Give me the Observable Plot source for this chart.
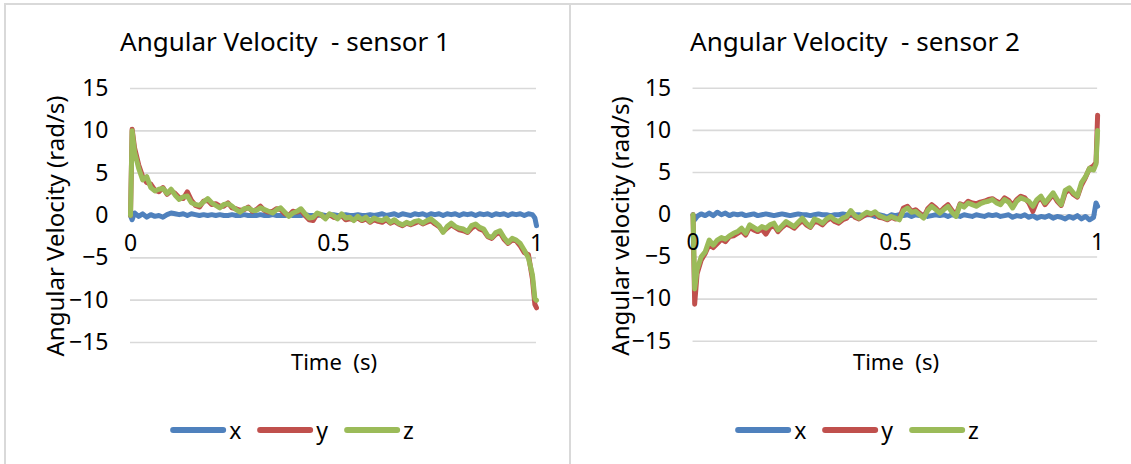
<!DOCTYPE html>
<html><head><meta charset="utf-8">
<script src="https://cdn.jsdelivr.net/npm/d3@7"></script>
<script src="https://cdn.jsdelivr.net/npm/@observablehq/plot@0.6"></script>
<style>
html,body{margin:0;padding:0;background:#fff;}
body{width:1131px;height:464px;overflow:hidden;position:relative;font-family:"Noto Sans",sans-serif;color:#000;}
.box{position:absolute;top:3px;height:480px;border:2px solid #d9d9d9;background:#fff;}
.title{position:absolute;font-size:26px;line-height:30px;white-space:pre;text-align:center;}
.ylab{position:absolute;font-size:24px;line-height:28px;white-space:pre;transform:translate(-50%,-50%) rotate(-90deg);transform-origin:center;}
.xlab{position:absolute;font-size:22px;line-height:26px;white-space:pre;transform:translate(-50%,-50%);}
.legend{position:absolute;display:flex;align-items:center;font-size:23px;line-height:26px;transform:translateX(-50%);}
.sw{display:inline-block;width:56px;height:6px;border-radius:3px;margin-right:3px;}
.lg{margin-right:16px;}
.plot{position:absolute;top:0;}
</style></head>
<body>
<div class="box" style="left:4px;width:563px;"></div>
<div class="box" style="left:569px;width:600px;"></div>
<div id="c1" class="plot" style="left:0px;"></div>
<div id="c2" class="plot" style="left:563px;"></div>
<div class="title" style="left:285px;top:26px;transform:translateX(-50%);">Angular Velocity  - sensor 1</div>
<div class="title" style="left:855px;top:26px;transform:translateX(-50%);">Angular Velocity  - sensor 2</div>
<div class="ylab" style="left:55px;top:226px;">Angular Velocity (rad/s)</div>
<div class="ylab" style="left:620px;top:226px;">Angular velocity (rad/s)</div>
<div class="xlab" style="left:334px;top:361px;">Time  (s)</div>
<div class="xlab" style="left:896px;top:361px;">Time  (s)</div>
<div class="legend" style="left:292px;top:417px;">
  <span class="sw" style="background:#4F81BD"></span><span class="lg">x</span>
  <span class="sw" style="background:#C0504D"></span><span class="lg">y</span>
  <span class="sw" style="background:#9BBB59"></span><span>z</span>
</div>
<div class="legend" style="left:857px;top:417px;">
  <span class="sw" style="background:#4F81BD"></span><span class="lg">x</span>
  <span class="sw" style="background:#C0504D"></span><span class="lg">y</span>
  <span class="sw" style="background:#9BBB59"></span><span>z</span>
</div>
<script>
const time = [0, 0.004,
 0.01,0.02,0.03,0.04,0.05,0.06,0.07,0.08,0.09,0.10,
 0.11,0.12,0.13,0.14,0.15,0.16,0.17,0.18,0.19,0.20,
 0.21,0.22,0.23,0.24,0.25,0.26,0.27,0.28,0.29,0.30,
 0.31,0.32,0.33,0.34,0.35,0.36,0.37,0.38,0.39,0.40,
 0.41,0.42,0.43,0.44,0.45,0.46,0.47,0.48,0.49,0.50,
 0.51,0.52,0.53,0.54,0.55,0.56,0.57,0.58,0.59,0.60,
 0.61,0.62,0.63,0.64,0.65,0.66,0.67,0.68,0.69,0.70,
 0.71,0.72,0.73,0.74,0.75,0.76,0.77,0.78,0.79,0.80,
 0.81,0.82,0.83,0.84,0.85,0.86,0.87,0.88,0.89,0.90,
 0.91,0.92,0.93,0.94,0.95,0.96,0.97,0.98,0.99,
 0.996, 1];

// sensor 1
const s1x = [0, -0.5,
 0.3,-0.1,0.2,-0.2,0.1,-0.1,0.0,-0.2,0.1,0.3,
 0.2,0.1,0.2,0.0,0.2,0.1,0.0,0.1,0.0,0.1,
 0.0,0.1,0.0,0.0,0.1,0.0,0.0,0.1,0.0,0.0,
 0.0,0.1,0.0,0.0,0.1,0.0,0.0,0.0,0.1,0.0,
 0.0,0.0,0.1,0.0,0.0,0.0,0.1,0.0,0.0,0.1,
 0.0,0.0,0.1,0.0,0.0,0.1,0.0,0.0,0.1,0.0,
 0.1,0.2,0.0,0.1,0.2,0.0,0.2,0.1,0.0,0.2,
 0.1,0.2,0.0,0.2,0.1,0.2,0.0,0.2,0.1,0.2,
 0.0,0.2,0.1,0.2,0.0,0.2,0.1,0.2,0.0,0.2,
 0.1,0.2,0.0,0.2,0.1,0.2,0.0,0.2,0.1,
 -0.3, -1.2];
const s1y = [0, 10.2,
 8.0,6.0,4.6,3.9,3.7,3.0,2.8,3.3,2.5,2.9,
 2.6,2.1,2.0,2.8,1.8,1.2,1.0,1.7,1.8,1.3,
 1.4,1.1,1.1,1.5,0.9,0.8,0.6,0.7,1.0,0.5,
 0.7,1.1,0.6,0.4,0.5,0.8,0.7,0.2,0.0,0.5,
 0.4,0.6,0.0,-0.5,-0.6,0.2,0.0,-0.3,0.1,-0.2,
 -0.3,0.0,-0.5,-0.4,-0.5,-0.3,-0.6,-0.4,-0.8,-0.5,
 -0.7,-0.8,-0.5,-0.9,-0.7,-1.0,-1.2,-0.9,-1.1,-0.9,
 -0.7,-1.0,-0.8,-0.6,-1.0,-1.3,-1.9,-1.5,-1.1,-1.4,
 -1.7,-1.8,-2.0,-1.5,-1.2,-1.6,-1.8,-2.5,-2.7,-2.2,
 -2.0,-2.8,-3.3,-2.9,-3.0,-3.6,-4.4,-4.6,-7.5,
 -10.5, -10.9];
const s1z = [0, 10.0,
 7.5,5.6,4.2,4.6,3.3,2.9,3.1,3.2,2.6,3.1,
 2.4,1.9,2.2,2.3,1.5,1.3,1.2,1.6,2.0,1.5,
 1.2,0.9,1.3,1.4,1.1,0.7,0.4,0.8,0.9,0.6,
 0.6,0.9,0.7,0.5,0.3,0.7,0.9,0.4,-0.1,0.3,
 0.5,0.8,0.2,-0.3,-0.2,0.3,0.1,-0.4,0.2,0.0,
 -0.4,0.2,-0.3,-0.2,-0.6,-0.1,-0.5,-0.2,-0.7,-0.3,
 -0.5,-0.6,-0.3,-0.8,-0.5,-0.9,-1.1,-0.8,-1.0,-0.7,
 -0.6,-0.9,-0.6,-0.4,-0.8,-1.2,-2.0,-1.3,-0.9,-1.3,
 -1.5,-1.6,-1.9,-1.2,-1.0,-1.4,-1.6,-2.4,-2.6,-2.0,
 -1.8,-2.6,-3.2,-2.7,-2.9,-3.3,-4.1,-5.0,-7.0,
 -9.8, -10.0];

// sensor 2
const s2x = [0, -0.6,
 -0.2,0.1,-0.1,0.2,-0.1,0.3,0.0,0.2,-0.1,0.1,
 0.0,0.1,-0.1,0.0,0.1,-0.1,0.0,0.1,0.0,-0.1,
 0.0,0.1,0.0,-0.1,0.0,0.1,0.0,0.0,-0.1,0.0,
 0.1,0.0,0.0,-0.1,0.0,0.0,0.1,0.0,-0.1,0.0,
 0.0,-0.1,0.0,0.0,-0.2,0.0,-0.1,-0.3,0.0,-0.1,
 0.0,-0.1,0.0,-0.2,0.0,-0.1,0.0,-0.2,-0.1,0.0,
 -0.1,0.0,-0.2,0.0,-0.1,-0.2,0.0,-0.1,-0.2,0.0,
 -0.1,-0.2,0.0,-0.1,0.0,-0.2,-0.1,0.0,-0.3,-0.1,
 -0.2,0.0,-0.3,-0.1,-0.4,-0.2,-0.3,-0.1,-0.4,-0.2,
 -0.3,-0.5,-0.2,-0.4,-0.1,-0.5,-0.2,-0.6,-0.3,
 1.4, 1.0];
const s2y = [0, -10.6,
 -7.0,-5.4,-4.6,-3.5,-3.9,-3.4,-2.9,-3.2,-2.6,-2.5,
 -2.2,-1.9,-2.4,-1.5,-1.8,-2.0,-1.7,-2.3,-1.5,-1.3,
 -2.0,-1.5,-1.1,-1.3,-1.6,-1.1,-0.7,-1.2,-1.5,-0.8,
 -0.9,-1.2,-0.7,-0.4,-0.8,-1.0,-0.6,-0.4,0.3,-0.3,
 -0.5,-0.2,0.1,0.0,0.2,-0.3,-0.4,-0.6,-0.3,-0.5,
 -0.4,0.8,1.0,0.4,0.6,0.2,-0.3,0.7,1.2,0.8,
 0.3,0.8,1.2,0.5,0.0,1.3,1.1,1.6,1.4,1.3,
 1.5,1.6,1.8,1.9,1.6,1.4,2.0,1.7,1.1,1.8,
 2.2,2.0,1.4,0.4,1.6,2.0,1.2,1.8,2.4,1.6,
 1.1,2.6,3.0,2.4,2.1,3.5,4.4,5.5,5.8,
 6.2, 11.8];
const s2z = [0, -8.8,
 -6.5,-5.0,-4.4,-3.0,-3.6,-3.0,-2.7,-2.9,-2.5,-2.2,
 -2.0,-1.6,-2.2,-1.2,-1.5,-1.8,-1.4,-1.6,-1.2,-1.0,
 -1.8,-1.3,-0.8,-1.1,-1.4,-0.9,-0.4,-1.0,-1.4,-0.5,
 -0.7,-1.0,-0.5,-0.2,-0.6,-0.8,-0.4,-0.2,0.5,-0.1,
 -0.4,0.0,0.3,0.1,0.35,-0.1,-0.3,-0.5,-0.2,-0.4,
 -0.6,0.5,0.8,0.3,0.4,0.0,-0.4,0.5,1.0,0.6,
 0.2,0.6,1.0,0.3,-0.2,1.2,0.9,1.4,1.2,1.0,
 1.3,1.5,1.6,1.8,1.4,1.2,1.8,1.5,0.8,1.6,
 2.0,1.8,1.6,1.0,1.8,2.2,1.4,2.0,2.6,1.8,
 1.2,2.9,3.2,2.6,2.2,3.8,4.5,5.5,5.3,
 6.0, 10.0];

const yTicks = [-15, -10, -5, 0, 5, 10, 15];
const xTicks = [0, 0.5, 1];
const xTickLabels = ["0", "0.5", "1"];
const seriesNames = ["x", "y", "z"];
const colors = ["#4F81BD", "#C0504D", "#9BBB59"];

function chart(vals) {
  const marks = [
    Plot.gridY(yTicks, {stroke: "#d9d9d9", strokeOpacity: 1, strokeWidth: 1.6})
  ];
  vals.forEach((arr, k) => {
    const data = time.map((t, i) => ({t, v: arr[i]}));
    marks.push(Plot.line(data, {x: "t", y: "v", stroke: colors[k], strokeWidth: 5,
      strokeLinejoin: "round", strokeLinecap: "round"}));
  });
  marks.push(Plot.axisY(yTicks, {tickSize: 0, tickPadding: 22, fontSize: 23, label: null}));
  marks.push(Plot.text(xTicks, {x: d => d, y: 0, dy: 28, text: (d, i) => xTickLabels[i], fontSize: 23}));
  return Plot.plot({
    width: 570, height: 400,
    marginLeft: 130, marginRight: 34, marginTop: 88, marginBottom: 58,
    style: {fontFamily: '"Noto Sans",sans-serif', background: "transparent", overflow: "visible"},
    x: {domain: [0, 1], axis: null},
    y: {domain: [-15, 15], axis: null},
    marks
  });
}
document.getElementById("c1").appendChild(chart([s1x, s1y, s1z]));
document.getElementById("c2").appendChild(chart([s2x, s2y, s2z]));
</script>
</body></html>
